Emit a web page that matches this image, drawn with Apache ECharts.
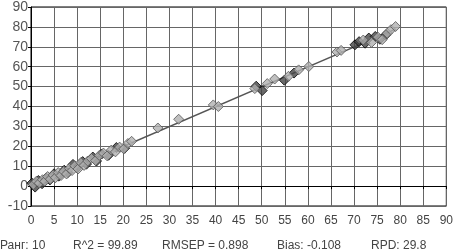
<!DOCTYPE html>
<html>
<head>
<meta charset="utf-8">
<script src="https://cdn.jsdelivr.net/npm/echarts@6/dist/echarts.min.js"></script>
<style>
  html, body { margin: 0; padding: 0; background: #fff; }
  #chart { width: 456px; height: 251px; }
</style>
</head>
<body>
<div id="chart"></div>
<script>
// validation points (grey diamonds)
var greyX = [0.5, 1.2, 1.8, 2.5, 3.0, 3.6, 4.2, 4.8, 5.3, 5.9, 6.5, 7.1, 7.7, 8.3, 8.9, 9.5, 10.2, 10.8, 11.5, 12.3, 13.1, 14.0, 14.8, 15.7, 16.5, 17.4, 18.3, 19.2, 20.1, 21.0, 21.8, 27.5, 32.0, 39.5, 40.6, 48.5, 51.2, 52.8, 55.8, 58.0, 60.2, 66.3, 67.2, 72.0, 73.8, 75.2, 76.1, 77.2, 78.0, 79.0];
var greyY = [0.8, 2.5, 1.5, 3.2, 2.4, 4.8, 3.5, 5.6, 4.2, 6.8, 5.3, 7.4, 6.1, 8.9, 7.8, 10.2, 8.6, 11.8, 10.4, 12.6, 13.9, 12.8, 15.4, 16.6, 15.2, 18.1, 17.2, 19.6, 18.7, 21.4, 22.5, 29.2, 33.6, 40.8, 40.0, 49.0, 51.5, 53.8, 55.2, 58.4, 60.1, 67.4, 68.2, 73.4, 72.2, 74.8, 73.6, 76.8, 78.6, 80.2];
// calibration points (dark diamonds)
var darkX = [0.2, 0.9, 1.6, 2.4, 3.3, 4.1, 5.0, 6.0, 7.2, 8.0, 9.1, 10.0, 11.2, 12.0, 13.4, 14.2, 15.3, 16.8, 18.5, 20.3, 48.8, 50.1, 54.9, 57.0, 70.2, 71.1, 72.4, 73.2, 74.6, 75.6, 76.8];
var darkY = [1.5, -0.5, 2.8, 1.2, 4.0, 3.1, 6.2, 5.0, 8.0, 6.8, 10.9, 9.2, 12.3, 11.0, 14.6, 12.6, 16.1, 15.5, 19.4, 19.0, 50.2, 48.0, 53.2, 56.8, 71.0, 72.6, 71.8, 74.4, 75.2, 73.8, 75.8];
// regression line
var fitX = [0, 79];
var fitY = [-0.1, 78.9];
var xTicks = [0, 90, 5];
var yTicks = [-10, 90, 10];
var statLabels = ['Ранг: 10', 'R^2 = 99.89', 'RMSEP = 0.898', 'Bias: -0.108', 'RPD: 29.8'];
var statPos = [0, 73, 162, 277, 371];

var myChart = echarts.init(document.getElementById('chart'));

function zip(xs, ys) {
    return xs.map(function (x, i) { return [x, ys[i]]; });
}

var font = 'Liberation Sans, Arial, sans-serif';

var option = {
    animation: false,
    grid: {
        left: 31,
        top: 5,
        right: 8,
        bottom: 45,
        show: true,
        borderColor: '#000',
        borderWidth: 1
    },
    xAxis: {
        type: 'value',
        min: xTicks[0],
        max: xTicks[1],
        interval: xTicks[2],
        axisLine: { lineStyle: { color: '#000' } },
        axisTick: { show: true, length: 3, lineStyle: { color: '#000' } },
        axisLabel: { margin: 9, color: '#444', fontSize: 12, fontFamily: font },
        splitLine: { lineStyle: { color: '#666', width: 1 } }
    },
    yAxis: {
        type: 'value',
        min: yTicks[0],
        max: yTicks[1],
        interval: yTicks[2],
        axisLine: { show: true, lineStyle: { color: '#000' } },
        axisTick: { show: true, length: 3, lineStyle: { color: '#000' } },
        axisLabel: { margin: 3, color: '#555', fontSize: 14, fontFamily: font },
        splitLine: { lineStyle: { color: '#666', width: 1 } }
    },
    series: [
        {
            type: 'line',
            data: zip(fitX, fitY),
            symbol: 'none',
            lineStyle: { color: '#555', width: 1.5 },
            z: 1
        },
        {
            type: 'scatter',
            data: zip(darkX, darkY),
            symbol: 'diamond',
            symbolSize: 10,
            itemStyle: { color: '#444', borderColor: '#000', borderWidth: 1 },
            z: 2
        },
        {
            type: 'scatter',
            data: zip(greyX, greyY),
            symbol: 'diamond',
            symbolSize: 10,
            itemStyle: { color: '#b0b0b0', borderColor: '#555', borderWidth: 1 },
            z: 3
        }
    ],
    graphic: statLabels.map(function (t, i) {
        return {
            type: 'text',
            left: statPos[i],
            top: 240,
            style: {
                text: t,
                fill: '#444',
                font: '12px "Liberation Sans", Arial, sans-serif'
            }
        };
    })
};

myChart.setOption(option);
</script>
</body>
</html>
